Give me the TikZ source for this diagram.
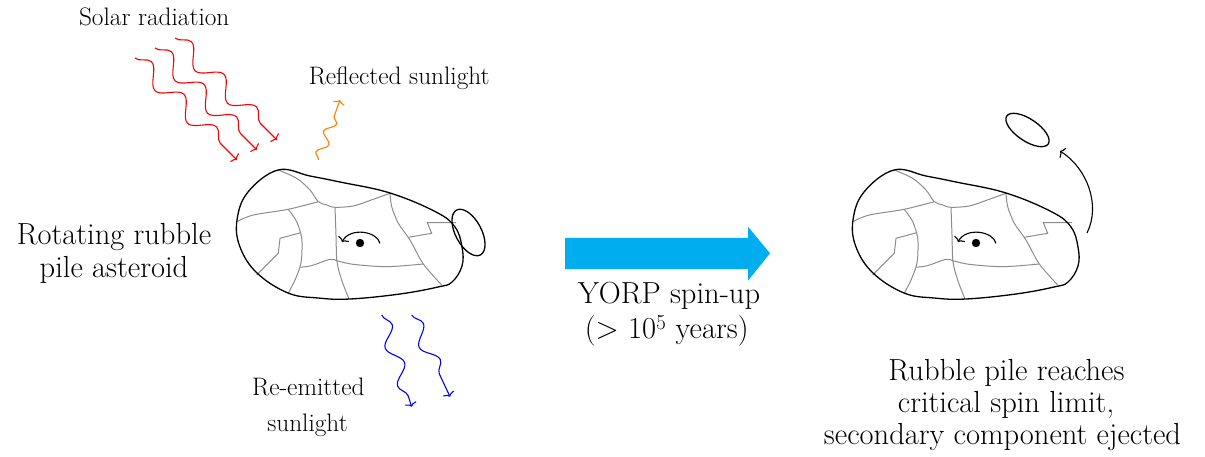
\documentclass[tikz,border=0pt]{standalone}
\usetikzlibrary{decorations.pathmorphing, arrows.meta}
\definecolor{yorpblue}{RGB}{0,174,239}
\definecolor{rayorange}{RGB}{255,128,0}
\begin{document}
\begin{tikzpicture}[x=1pt, y=-1pt,
  outline/.style={line width=1.3pt, black},
  crack/.style={line width=1pt, black!45},
  tip/.style={-{To[length=4pt,width=12pt]}},
  wave/.style={line width=1.1pt, tip, decorate,
    decoration={snake, amplitude=#1, segment length=46, post length=10}},
  wave/.default=9,
  bigtext/.style={font=\fontsize{30.5}{32}\selectfont, anchor=base, inner sep=0pt},
  smalltext/.style={font=\fontsize{25.3}{30}\selectfont, anchor=base, inner sep=0pt},
  rubblepile/.pic={
    % fragment boundaries
    \draw[crack] plot[smooth] coordinates {(278.3,170) (296.7,178.3) (310,190) (318.3,201.7) (326.7,205) (335,207.3) (353.3,206) (373.3,199.3) (390,193.3)};
    \draw[crack] plot[smooth] coordinates {(335,207.3) (336,235) (337,262) (342,281) (349,299)};
    \draw[crack] plot[smooth] coordinates {(236.7,221.7) (253.3,215) (288.3,209.3) (318.3,201.7)};
    \draw[crack] plot[smooth] coordinates {(288.3,209.3) (296.7,221.7) (301.7,238) (301.7,256.7) (300,267) (295,280) (288.3,293.3)};
    \draw[crack] (300.7,232.7) -- (280,238.3) -- (278.3,253.3) -- (256.7,275);
    \draw[crack] plot[smooth] coordinates {(300.5,267.3) (312,265.5) (330,259.3) (338,261) (353,264.3) (386.7,266.7) (423.3,264)};
    \draw[crack] plot[smooth] coordinates {(390,193.3) (391.7,206.7) (398.3,223.3) (410,240) (423.3,264) (441.7,285)};
    \draw[crack] (408.3,237.3) -- (431.7,233.3) -- (427.3,222.7) -- (456,222.7);
    % body outline
    \draw[outline] plot[smooth cycle, tension=0.65] coordinates {(278,170) (310,176) (340,182) (390,193) (436,212) (455,227) (462,247) (462,266) (452,282) (438,287) (400,294) (350,299) (318,298) (288,293) (257,273) (240,247) (237,220) (248,192)};
    % spin direction
    \draw[line width=1.1pt, tip] (380,243.3) .. controls (377,231) and (350,227) .. (342,242);
    \fill (360,243) circle (4.2);
  }
]
\useasboundingbox (0,0) rectangle (1205,457);

% asteroid before spin-up, with a loosely held lobe
\pic at (0,0) {rubblepile};
\draw[outline, shift={(468.5,232.5)}, rotate=28] (0,0) ellipse [x radius=13, y radius=25.4];

% asteroid after spin-up, with the ejected component
\pic at (616,0) {rubblepile};
\draw[outline, shift={(1027.5,130)}, rotate=-34] (0,0) ellipse [x radius=25, y radius=11];
\coordinate (ejstart) at (1087,233);
\coordinate (ejend) at (1060,151);
\draw[line width=1.1pt, tip] (ejstart) .. controls (1101,205) and (1087,168) .. (ejend);

% incoming solar radiation
\foreach \dx in {0,20,40}
  \draw[red, wave] (135+\dx,58-\dx/2) -- (237+\dx,160-\dx/2);

% reflected sunlight
\draw[rayorange, wave=5, decoration={segment length=22, post length=8}] (318.3,160) -- (340,100);

% re-emitted thermal radiation
\draw[blue, wave=7, decoration={segment length=40}] (381.7,315) -- (411.7,406.7);
\draw[blue, wave=7, decoration={segment length=40}] (411.7,315) -- (450,396.7);

% YORP spin-up arrow
\fill[yorpblue] (565,238) -- (748,238) -- (748,226.7) -- (770,253.3) -- (748,280.7) -- (748,269) -- (565,269) -- cycle;

% labels
\node[smalltext] (solar) at (154.2,26) {Solar radiation};
\node[smalltext] (reflected) at (399.2,85) {Reflected sunlight};
\node[smalltext] (reemitted1) at (308.3,395) {Re-emitted};
\node[smalltext] (reemitted2) at (307.5,431.7) {sunlight};
\node[bigtext] (rotating1) at (114,245) {Rotating rubble};
\node[bigtext] (rotating2) at (114,277) {pile asteroid};
\node[bigtext] (yorp1) at (669,303.3) {YORP spin-up};
\node[bigtext] (yorp2) at (666.7,338.3) {(> 10\textsuperscript{5} years)};
\node[bigtext] (critical1) at (1006.5,380) {Rubble pile reaches};
\node[bigtext] (critical2) at (1006,412) {critical spin limit,};
\node[bigtext] (critical3) at (1002.5,444) {secondary component ejected};
\end{tikzpicture}
\end{document}
